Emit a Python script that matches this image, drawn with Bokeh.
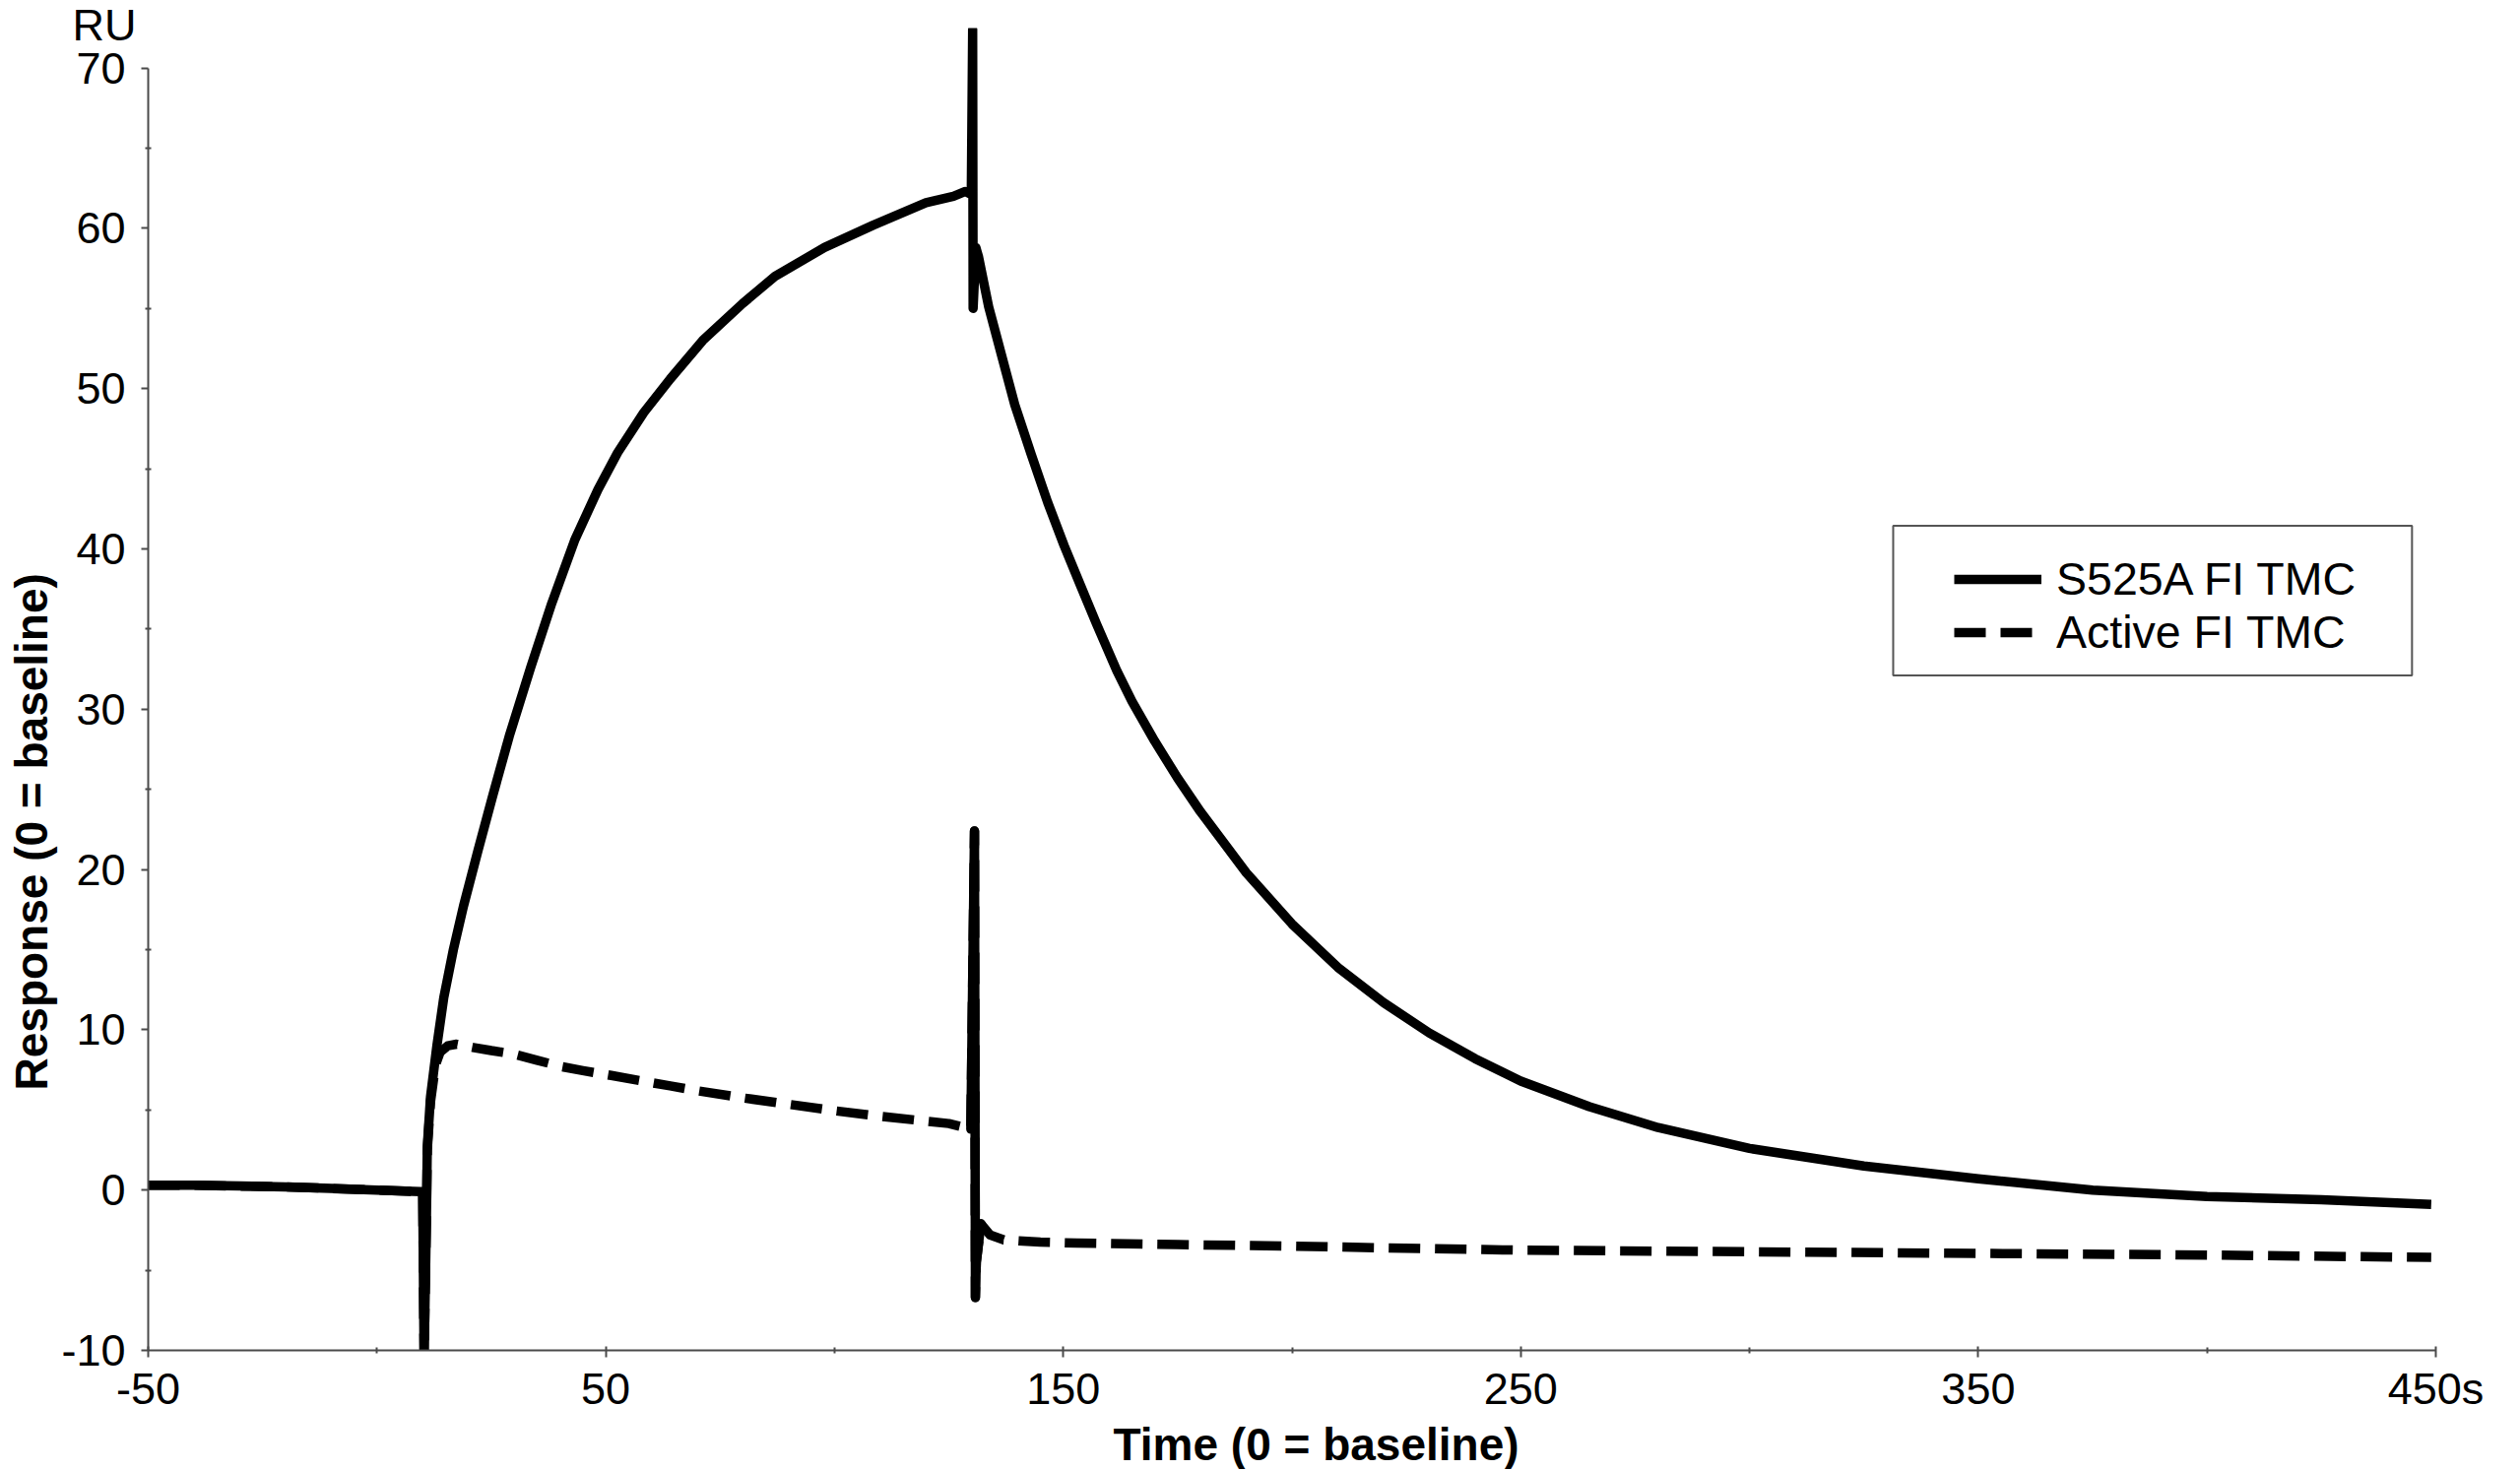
from bokeh.plotting import figure
from bokeh.models import (Range1d, FixedTicker, Legend, LegendItem,
                          BoxAnnotation, ColumnDataSource, Title)
from bokeh.embed import file_html
from bokeh.resources import INLINE

# ---------------- data ----------------
x_ticks = [-50, 50, 150, 250, 350, 450]
x_tick_labels = ["-50", "50", "150", "250", "350", "450s"]
x_minor = [0, 100, 200, 300, 400]
y_ticks = [-10, 0, 10, 20, 30, 40, 50, 60, 70]
y_tick_labels = ["-10", "0", "10", "20", "30", "40", "50", "60", "70"]
y_minor = [-5, 5, 15, 25, 35, 45, 55, 65]

series_names = ["S525A FI TMC", "Active FI TMC"]
unit_label = "RU"
x_title = "Time (0 = baseline)"
y_title = "Response (0 = baseline)"

s525a_time = [-50, -40, -30, -20, -10, 0, 9.5, 10.0, 10.3, 10.8, 11.0, 11.7,
              13.1, 14.6, 16.7, 18.9, 22.1, 25.3, 28.9, 33.6, 38.2, 43.3,
              48.3, 52.6, 58.3, 64.1, 71.2, 79.9, 87.0, 97.8, 108.5, 120.0,
              126.0, 128.6, 129.9, 130.2, 130.3, 130.9, 131.5, 133.7, 136.5,
              139.4, 143.0, 146.6, 150.2, 153.8, 157.3, 161.7, 165, 170, 175,
              180, 190, 200, 210, 220, 230, 240, 250, 265, 280, 300, 325, 350,
              375, 400, 425, 449]
s525a_resp = [0.3, 0.3, 0.25, 0.2, 0.1, 0.0, -0.1, -0.1, -10.6, -2.0, 2.7, 5.8,
              9.0, 12.0, 15.0, 17.7, 21.2, 24.6, 28.3, 32.6, 36.6, 40.6,
              43.7, 46.0, 48.5, 50.6, 53.0, 55.3, 57.0, 58.8, 60.2, 61.6,
              62.0, 62.3, 62.1, 72.4, 55.0, 58.8, 58.2, 55.1, 52.1,
              49.0, 45.9, 42.9, 40.2, 37.7, 35.3, 32.4, 30.5, 28.0, 25.7,
              23.6, 19.8, 16.6, 13.9, 11.7, 9.8, 8.2, 6.8, 5.2, 3.9, 2.6, 1.5, 0.7,
              0.0, -0.4, -0.6, -0.9]

active_time = [-50, -40, -30, -20, -10, 0, 9.5, 10.0, 10.3, 10.8, 11.0, 11.7,
               12.8, 13.8, 15.5, 17.4, 21.0, 25.0, 29.6, 35.0, 40.4, 45.0,
               51.2, 57.0, 64.1, 70.0, 80.0, 90.0, 100.0, 110.0, 120.0, 125.0,
               128.6, 129.8, 130.6, 130.8, 131.0, 132.0, 134.0, 137.0, 145.0,
               153.0, 175.0, 200.0, 250.0, 300.0, 350.0, 400.0, 449.0]
active_resp = [0.3, 0.3, 0.25, 0.2, 0.1, 0.0, -0.1, -0.1, -10.6, -2.0, 2.5, 5.5,
               7.8, 8.6, 9.0, 9.1, 8.9, 8.7, 8.5, 8.1, 7.7, 7.45,
               7.15, 6.85, 6.5, 6.2, 5.75, 5.35, 4.95, 4.6, 4.3, 4.15,
               3.9, 3.8, 22.4, -6.7, -4.5, -2.1, -2.8, -3.1, -3.25,
               -3.3, -3.4, -3.5, -3.75, -3.85, -3.95, -4.05, -4.2]

# ---------------- styling constants ----------------
FONT = "Liberation Sans"
TICK_SIZE = "45px"
TITLE_SIZE = "46px"
LEGEND_SIZE = "46.5px"
LINE_W = 9.5
AXIS_COLOR = "#4a4a4a"
DASH = "32 15"

p = figure(width=2543, height=1492,
           x_range=Range1d(-50, 450), y_range=Range1d(-10, 72.49),
           output_backend="svg", toolbar_location=None, title=None,
           min_border_left=150, min_border_right=70,
           min_border_top=28, min_border_bottom=100)
p.outline_line_color = None
p.xgrid.visible = False
p.ygrid.visible = False
p.background_fill_color = "white"
p.border_fill_color = "white"

xa = p.xaxis[0]
xa.ticker = FixedTicker(ticks=x_ticks, minor_ticks=x_minor)
xa.major_label_overrides = {t: l for t, l in zip(x_ticks, x_tick_labels)}
xa.bounds = (-50, 450)
ya = p.yaxis[0]
ya.ticker = FixedTicker(ticks=y_ticks, minor_ticks=y_minor)
ya.major_label_overrides = {t: l for t, l in zip(y_ticks, y_tick_labels)}
ya.bounds = (-10, 70)

for ax in (xa, ya):
    ax.axis_line_color = AXIS_COLOR
    ax.axis_line_width = 2
    ax.major_tick_line_color = AXIS_COLOR
    ax.major_tick_line_width = 2
    ax.minor_tick_line_color = AXIS_COLOR
    ax.minor_tick_line_width = 2
    ax.minor_tick_in = 3
    ax.minor_tick_out = 3
    ax.major_label_text_font = FONT
    ax.major_label_text_font_size = TICK_SIZE
    ax.major_label_text_color = "black"
xa.major_tick_in = 4
xa.major_tick_out = 7
xa.major_label_standoff = 6
ya.major_tick_in = 0
ya.major_tick_out = 7
ya.major_label_standoff = 16

src_s = ColumnDataSource(dict(t=s525a_time, r=s525a_resp))
src_a = ColumnDataSource(dict(t=active_time, r=active_resp))

# spike portion of the active trace (drawn continuous, as in the reference)
i0 = active_time.index(129.8)
i1 = active_time.index(132.0) + 1
src_a_spike = ColumnDataSource(dict(t=active_time[i0:i1], r=active_resp[i0:i1]))

r_active = p.line("t", "r", source=src_a, line_color="black", line_width=LINE_W,
                  line_dash=DASH, line_join="round")
p.line("t", "r", source=src_a_spike, line_color="black", line_width=LINE_W,
       line_join="round", line_cap="round")
r_s525a = p.line("t", "r", source=src_s, line_color="black", line_width=LINE_W,
                 line_join="round")

# legend frame
box = BoxAnnotation(left=331.4, right=444.8, bottom=32.10, top=41.44,
                    fill_color="white", fill_alpha=1.0,
                    line_color="#555555", line_width=2, line_alpha=1.0)
p.add_layout(box)

legend = Legend(items=[LegendItem(label=series_names[0], renderers=[r_s525a]),
                       LegendItem(label=series_names[1], renderers=[r_active])],
                location=(1816, 684.3), glyph_width=89, glyph_height=50,
                label_height=50, label_standoff=15, padding=18, spacing=0,
                margin=0, border_line_alpha=0, background_fill_alpha=0,
                label_text_font=FONT, label_text_font_size=LEGEND_SIZE,
                label_text_color="black")
p.add_layout(legend)

# axis titles
p.add_layout(Title(text=y_title, align="left", offset=264,
                   standoff=4, text_font=FONT, text_font_size=TITLE_SIZE,
                   text_font_style="bold", text_color="black"), "left")
p.add_layout(Title(text=x_title, align="left", offset=980,
                   standoff=0, text_font=FONT, text_font_size=TITLE_SIZE,
                   text_font_style="bold", text_color="black"), "below")

# unit label at the top of the y axis
p.add_layout(Title(text=unit_label, align="left", offset=-77, standoff=-44,
                   vertical_align="bottom", text_font=FONT,
                   text_font_size=TICK_SIZE, text_font_style="normal",
                   text_color="black"), "above")

open("out.html", "w").write(file_html(p, INLINE))
